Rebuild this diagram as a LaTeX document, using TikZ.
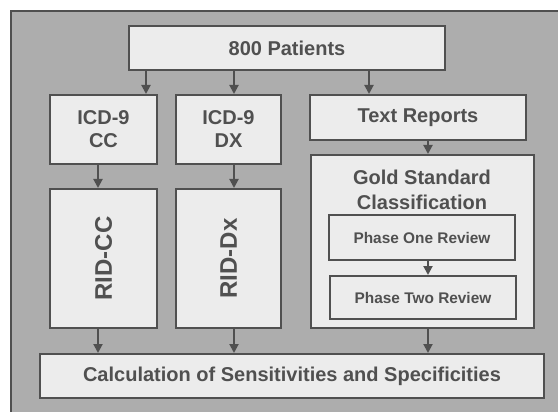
\documentclass[tikz,border=0pt]{standalone}
\usepackage{fontspec}
\setmainfont{Liberation Sans}
\usetikzlibrary{arrows.meta}
\definecolor{panel}{HTML}{ADADAD}
\definecolor{boxfill}{HTML}{ECECEC}
\definecolor{ink}{HTML}{505050}
\tikzset{
  box/.style={draw=ink, line width=2pt, fill=boxfill, inner sep=0pt,
    text=ink, font=\bfseries\fontsize{20}{23}\selectfont, align=center},
  phasebox/.style={box, font=\bfseries\fontsize{15.4}{18}\selectfont},
  ridbox/.style={box, font=\bfseries\fontsize{24}{28}\selectfont},
  arr/.style={draw=ink, line width=2pt, -{Triangle[width=9pt,length=9pt]}},
}
\begin{document}
\begin{tikzpicture}[x=1pt, y=-1pt]
  \useasboundingbox (0,0) rectangle (558,412);
  \fill[white] (0,0) rectangle (558,412);
  % grey panel behind the flow chart
  \fill[panel] (11,11) rectangle (558,412);
  \draw[ink, line width=2pt] (11,412) -- (11,11) -- (558,11);

  % boxes
  \node[box, minimum width=316pt, minimum height=44pt] (pat) at (287,48) {800 Patients};
  \node[box, minimum width=107pt, minimum height=69pt] (icdcc) at (103.5,129.5) {ICD-9\\CC};
  \node[box, minimum width=105pt, minimum height=69pt] (icddx) at (228.5,129.5) {ICD-9\\DX};
  \node[box, minimum width=216pt, minimum height=45pt] (txt) at (418,117.5) {Text Reports};
  \node[box, minimum width=223pt, minimum height=173pt] (gold) at (422.5,241.5) {};
  \node[box, fill=none, draw=none, font=\bfseries\fontsize{20}{25}\selectfont] (goldlbl) at (422,190) {Gold Standard\\Classification};
  \node[phasebox, minimum width=186pt, minimum height=45pt] (p1) at (422,237.5) {Phase One Review};
  \node[phasebox, minimum width=186pt, minimum height=43pt] (p2) at (423,297.5) {Phase Two Review};
  \node[ridbox, minimum width=107pt, minimum height=139pt] (ridcc) at (103.5,258.5) {};
  \node[ridbox, fill=none, draw=none, rotate=90] (ridcclbl) at (ridcc.center) {RID-CC};
  \node[ridbox, minimum width=105pt, minimum height=139pt] (riddx) at (228.5,258.5) {};
  \node[ridbox, fill=none, draw=none, rotate=90] (riddxlbl) at (riddx.center) {RID-Dx};
  \node[box, minimum width=504pt, minimum height=44pt] (calc) at (292,376) {Calculation of Sensitivities and Specificities};

  % connector columns
  \coordinate (ca) at (146,0);
  \coordinate (cb) at (234,0);
  \coordinate (cc) at (369,0);
  \coordinate (cd) at (98,0);
  \coordinate (ce) at (428,0);

  % connectors
  \draw[arr] (pat.south -| ca) -- (icdcc.north -| ca);
  \draw[arr] (pat.south -| cb) -- (icddx.north -| cb);
  \draw[arr] (pat.south -| cc) -- (txt.north -| cc);
  \draw[arr] (icdcc.south -| cd) -- (ridcc.north -| cd);
  \draw[arr] (icddx.south -| cb) -- (riddx.north -| cb);
  \draw[arr] (txt.south -| ce) -- (gold.north -| ce);
  \draw[arr] (p1.south -| ce) -- (p2.north -| ce);
  \draw[arr] (ridcc.south -| cd) -- (calc.north -| cd);
  \draw[arr] (riddx.south -| cb) -- (calc.north -| cb);
  \draw[arr] (gold.south -| ce) -- (calc.north -| ce);
\end{tikzpicture}
\end{document}
